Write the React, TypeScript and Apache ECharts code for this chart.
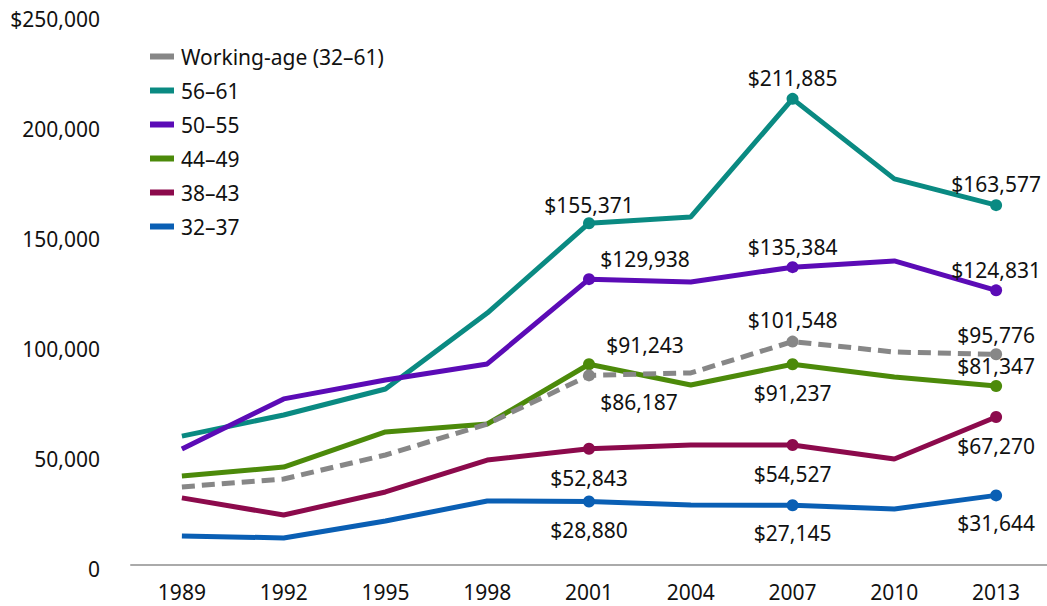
import React, { useEffect, useRef } from "react";
import * as echarts from "echarts";

const years = ["1989", "1992", "1995", "1998", "2001", "2004", "2007", "2010", "2013"];
const workingAge = [35500, 39100, 50000, 64100, 86187, 87300, 101548, 96800, 95776];
const age5661 = [58600, 68200, 80000, 114500, 155371, 158200, 211885, 175500, 163577];
const age5055 = [52700, 75500, 84100, 91400, 129938, 128600, 135384, 138200, 124831];
const age4449 = [40500, 44500, 60500, 64100, 91243, 81800, 91237, 85500, 81347];
const age3843 = [30500, 22700, 33200, 47700, 52843, 54500, 54527, 48200, 67270];
const age3237 = [13200, 12300, 20000, 29100, 28880, 27300, 27145, 25500, 31644];
const labeledIdx = [4, 6, 8];

const FONT = "'Noto Sans', 'Open Sans', sans-serif";

type LabelCfg = { pos: "top" | "bottom"; dx?: number; dist?: number };

function buildData(values: number[], color: string, cfgs: LabelCfg[]) {
  return values.map((v, i) => {
    const k = labeledIdx.indexOf(i);
    if (k < 0) return { value: v, symbol: "none" };
    const c = cfgs[k];
    return {
      value: v,
      symbol: "circle",
      symbolSize: 12,
      label: {
        show: true,
        position: c.pos,
        distance: c.dist ?? (c.pos === "top" ? 4 : 12),
        offset: [c.dx ?? 0, 0],
        formatter: (p: any) => "$" + Number(p.value).toLocaleString("en-US"),
        color: "#111",
        fontSize: 21,
        fontFamily: FONT,
      },
    };
  });
}

export default function App() {
  const ref = useRef<HTMLDivElement>(null);
  useEffect(() => {
    if (!ref.current) return;
    const chart = echarts.init(ref.current, undefined, { renderer: "svg" });
    const mk = (name: string, values: number[], color: string, cfgs: LabelCfg[], dashed = false) => ({
      name,
      type: "line",
      data: buildData(values, color, cfgs),
      color,
      lineStyle: { color, width: 5, type: dashed ? [13, 7] : "solid" },
      itemStyle: { color },
      showSymbol: true,
      z: dashed ? 3 : 2,
    });
    chart.setOption({
      animation: false,
      textStyle: { fontFamily: FONT },
      grid: { left: 131, right: 0, top: 15, bottom: 41 },
      legend: {
        orient: "vertical",
        left: 145,
        top: 41,
        icon: "rect",
        itemWidth: 24,
        itemHeight: 6,
        itemGap: 13,
        textStyle: { fontSize: 21, color: "#111", fontFamily: FONT, lineHeight: 21, padding: [0, 0, 0, 2] },
        data: ["Working-age (32–61)", "56–61", "50–55", "44–49", "38–43", "32–37"],
      },
      xAxis: {
        type: "category",
        data: years,
        boundaryGap: true,
        axisLine: { lineStyle: { color: "#aaaaaa", width: 2 } },
        axisTick: { alignWithLabel: true, length: 9, lineStyle: { color: "#aaaaaa", width: 2 } },
        axisLabel: { color: "#111", fontSize: 21, fontFamily: FONT, margin: 16 },
      },
      yAxis: {
        type: "value",
        min: 0,
        max: 250000,
        interval: 50000,
        axisLine: { show: false },
        axisTick: { show: false },
        splitLine: { show: false },
        axisLabel: {
          color: "#111",
          fontSize: 21,
          fontFamily: FONT,
          margin: 31,
          formatter: (v: number) => "{a|" + (v === 250000 ? "$250,000" : v.toLocaleString("en-US")) + "}",
          rich: { a: { fontSize: 21, fontFamily: FONT, color: "#111", padding: [8, 0, 0, 0] } },
        },
      },
      series: [
        mk("Working-age (32–61)", workingAge, "#878787", [
          { pos: "bottom", dx: 50, dist: 10 },
          { pos: "top", dist: 5 },
          { pos: "top", dist: 3 },
        ], true),
        mk("56–61", age5661, "#0a8a82", [{ pos: "top", dist: 2 }, { pos: "top" }, { pos: "top", dist: 5 }]),
        mk("50–55", age5055, "#5b0bb6", [{ pos: "top", dx: 56 }, { pos: "top" }, { pos: "top" }]),
        mk("44–49", age4449, "#4c8a0a", [{ pos: "top", dx: 56, dist: 3 }, { pos: "bottom" }, { pos: "top" }]),
        mk("38–43", age3843, "#8c0a4c", [{ pos: "bottom", dist: 13 }, { pos: "bottom" }, { pos: "bottom" }]),
        mk("32–37", age3237, "#0a5fb4", [{ pos: "bottom" }, { pos: "bottom", dist: 11 }, { pos: "bottom", dist: 11 }]),
      ],
    });
    return () => chart.dispose();
  }, []);
  return (
    <div
      ref={ref}
      style={{ position: "fixed", left: 0, top: 0, width: 1047, height: 606, background: "#fff" }}
    />
  );
}
